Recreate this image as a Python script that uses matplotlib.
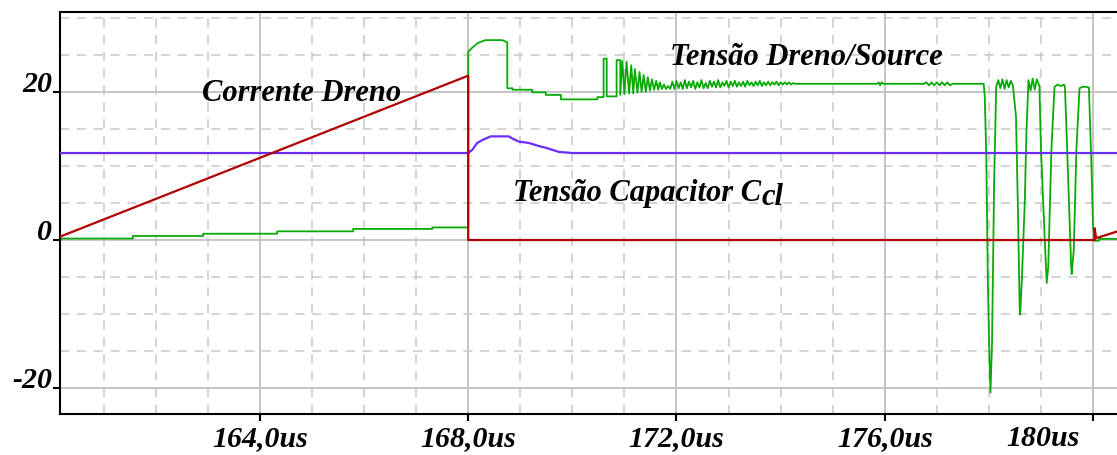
import matplotlib
matplotlib.use("Agg")
import matplotlib.pyplot as plt
import matplotlib.transforms as mtransforms
from matplotlib.ticker import MultipleLocator

# === Data (time in us, values in V / A) ===
# Corrente Dreno (red)
id_t = [160.16, 168.00, 168.00, 180.03, 180.03, 180.06, 180.46]
id_v = [0.45, 22.2, 0.0, 0.0, 1.6, 0.25, 1.15]

# Tensao Capacitor Ccl (purple)
vc_t = [160.16, 168.00, 168.08, 168.17, 168.27, 168.43, 168.78, 168.85, 168.97,
        169.17, 169.33, 169.52, 169.74, 170.00, 180.46]
vc_v = [11.75, 11.75, 12.2, 13.1, 13.5, 14.0, 14.0, 13.7, 13.3,
        13.1, 12.75, 12.4, 11.9, 11.75, 11.75]

# Tensao Dreno/Source (green), piece by piece
vds_pre_t = [160.16, 160.20, 161.56, 161.56, 162.91, 162.91, 164.33, 164.33,
             165.79, 165.79, 167.31, 167.31, 168.00]
vds_pre_v = [0.00, 0.20, 0.20, 0.55, 0.55, 0.85, 0.85, 1.17,
             1.17, 1.50, 1.50, 1.70, 1.70]

vds_on_t = [168.00, 168.00, 168.08, 168.18, 168.33, 168.65, 168.75, 168.75,
            168.85, 168.85, 169.23, 169.23, 169.49, 169.49, 169.78, 169.78,
            170.48, 170.48, 170.60, 170.60, 170.66, 170.66, 170.85, 170.85,
            170.92, 170.92]
vds_on_v = [1.70, 25.4, 26.0, 26.6, 27.0, 27.0, 26.7, 20.5,
            20.5, 20.3, 20.3, 19.95, 19.95, 19.6, 19.6, 19.0,
            19.0, 19.3, 19.3, 24.5, 24.5, 19.4, 19.4, 24.3,
            24.3, 19.6]

vds_osc_t = [170.96, 171.00, 171.04, 171.09, 171.13, 171.17, 171.20, 171.25,
             171.29, 171.33, 171.37, 171.41, 171.45, 171.49, 171.53, 171.57,
             171.61, 171.65, 171.68, 171.72, 171.76, 171.80, 171.84, 171.88]
vds_osc_v = [24.2, 19.7, 24.1, 19.8, 23.6, 19.8, 23.1, 19.9,
             22.7, 20.0, 22.3, 20.0, 22.0, 20.2, 21.7, 20.3,
             21.5, 20.3, 21.3, 20.4, 21.0, 20.4, 20.8, 20.4]

vds_rip_t = [171.92, 171.96, 172.00, 172.04, 172.08, 172.12, 172.16, 172.20, 172.24, 172.28,
             172.32, 172.36, 172.40, 172.44, 172.48, 172.52, 172.56, 172.60, 172.64, 172.68,
             172.72, 172.76, 172.80, 172.84, 172.88, 172.92, 172.96, 173.00, 173.04, 173.08,
             173.12, 173.16, 173.20, 173.24, 173.28, 173.32, 173.36, 173.40, 173.44, 173.48,
             173.52, 173.56, 173.60, 173.64, 173.68, 173.72, 173.76, 173.80, 173.84, 173.88,
             173.92, 173.96, 174.00, 174.04, 174.08, 174.12, 174.16, 174.20, 174.24, 174.28]
vds_rip_v = [21.4, 20.4, 21.5, 20.5, 21.3, 20.4, 21.6, 20.5, 21.4, 20.6,
             21.5, 20.4, 21.3, 20.6, 21.6, 20.5, 21.2, 20.5, 21.5, 20.7,
             21.4, 20.6, 21.6, 20.6, 21.3, 20.8, 21.5, 20.6, 21.4, 20.8,
             21.5, 20.7, 21.3, 20.8, 21.4, 20.7, 21.5, 20.9, 21.3, 20.8,
             21.4, 20.9, 21.5, 20.8, 21.3, 20.9, 21.4, 20.9, 21.3, 21.0,
             21.4, 20.9, 21.3, 21.0, 21.3, 21.0, 21.3, 21.0, 21.2, 21.1]

vds_flat_t = [174.32, 175.85, 175.88, 175.91, 175.94, 175.97, 176.75, 176.80, 176.85,
              176.90, 176.95, 177.00, 177.05, 177.10, 177.15, 177.20, 177.25, 177.30, 177.90]
vds_flat_v = [21.1, 21.1, 21.3, 20.9, 21.3, 21.1, 21.1, 21.3, 20.9,
              21.3, 20.9, 21.3, 20.9, 21.3, 20.9, 21.3, 20.9, 21.1, 21.1]

vds_dip_t = [177.92, 177.95, 177.98, 178.01, 178.03, 178.06, 178.10, 178.14,
             178.18, 178.22, 178.26, 178.30, 178.34, 178.38, 178.42, 178.46,
             178.52, 178.56, 178.59, 178.60, 178.63, 178.69, 178.72, 178.76,
             178.80, 178.84, 178.88, 178.92, 178.97,
             179.00, 179.07, 179.11, 179.14, 179.20, 179.26,
             179.32, 179.38, 179.44, 179.46,
             179.49, 179.55, 179.58, 179.59, 179.63, 179.68, 179.74,
             179.80, 179.86, 179.92,
             179.97, 180.00, 180.03]
vds_dip_v = [19.4, 11.3, -5.9, -15.8, -20.6, -13.9, 7.7, 20.7,
             21.6, 20.5, 21.7, 20.4, 21.6, 20.6, 21.5, 20.9,
             16.7, 3.2, -9.0, -10.1, -5.8, 5.4, 14.4, 21.6,
             20.2, 21.8, 20.3, 21.7, 20.8,
             12.2, 0.45, -5.8, -3.6, 12.2, 20.7,
             21.0, 20.8, 21.0, 20.7,
             14.9, 2.3, -3.6, -4.6, -1.35, 12.2, 20.5,
             20.7, 20.7, 20.6,
             9.9, 1.8, 0.0]

vds_post_t = [180.03, 180.12, 180.12, 180.46]
vds_post_v = [-0.1, -0.1, 0.15, 0.15]

vds_t = vds_pre_t + vds_on_t + vds_osc_t + vds_rip_t + vds_flat_t + vds_dip_t + vds_post_t
vds_v = vds_pre_v + vds_on_v + vds_osc_v + vds_rip_v + vds_flat_v + vds_dip_v + vds_post_v

x_ticks = [164, 168, 172, 176, 180]
x_labels = ["164,0us", "168,0us", "172,0us", "176,0us", "180us"]
y_ticks = [-20, 0, 20]
y_labels = ["-20", "0", "20"]

# === Style ===
plt.rcParams["font.family"] = ["Liberation Serif", "DejaVu Serif"]
plt.rcParams["font.style"] = "italic"
plt.rcParams["font.weight"] = "bold"
plt.rcParams["axes.unicode_minus"] = False

fig = plt.figure(figsize=(11.17, 4.55), dpi=100)
ax = fig.add_axes([60 / 1117, 41 / 455, 1057 / 1117, 402 / 455])

ax.plot(vds_t, vds_v, color="#0aaa0a", lw=1.3, zorder=2)
ax.plot(vc_t, vc_v, color="#6a2cff", lw=1.6, zorder=3)
ax.plot(id_t, id_v, color="#b00000", lw=1.6, zorder=4)

ax.set_xlim(160.16, 180.46)
ax.set_ylim(-23.5, 30.8)

ax.set_xticks(x_ticks)
ax.set_xticklabels(x_labels)
ax.set_yticks(y_ticks)
ax.set_yticklabels(y_labels)
ax.xaxis.set_minor_locator(MultipleLocator(1))
ax.yaxis.set_minor_locator(MultipleLocator(5))

ax.tick_params(axis="both", which="major", direction="out", length=5,
               width=1.5, color="black", labelsize=21.5)
ax.tick_params(axis="x", which="major", pad=3)
ax.tick_params(axis="y", which="major", pad=0.5)
ax.tick_params(which="minor", length=0)
for lbl in ax.get_yticklabels():
    lbl.set_verticalalignment("baseline")

# last label sits left of its tick, as in the scope print
last = ax.get_xticklabels()[-1]
last.set_horizontalalignment("right")
last.set_transform(last.get_transform() +
                   mtransforms.ScaledTranslation(-0.14, 0, fig.dpi_scale_trans))

ax.grid(True, which="major", color="#c4c4c4", lw=1.4, ls="-")
ax.grid(True, which="minor", color="#c8c8c8", lw=1.1, ls=(0, (6, 5)))
ax.set_axisbelow(True)

for side in ["left", "bottom", "top"]:
    ax.spines[side].set_linewidth(1.5)
    ax.spines[side].set_color("black")
ax.spines["right"].set_visible(False)

# === Labels on the traces ===
ax.text(162.88, 18.8, "Corrente Dreno", fontsize=22, ha="left", va="baseline", zorder=5)
ax.text(171.88, 23.65, "Tensão Dreno/Source", fontsize=22, ha="left", va="baseline", zorder=5)
t1 = ax.text(168.86, 5.3, "Tensão Capacitor C", fontsize=22, ha="left", va="baseline", zorder=5)
ax.annotate("cl", xy=(1, 0), xycoords=t1, xytext=(0, -3), textcoords="offset points",
            fontsize=22, ha="left", va="bottom", zorder=5)

fig.savefig("out.png", dpi=100)
